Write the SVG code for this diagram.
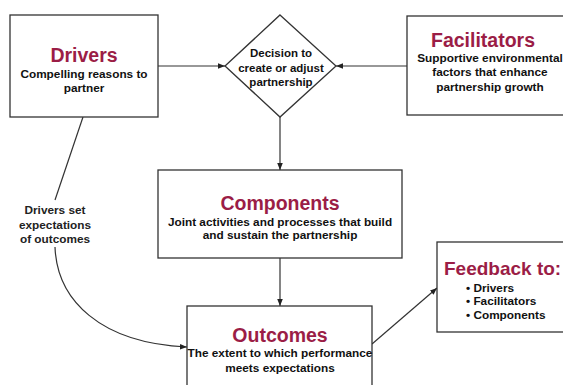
<svg xmlns="http://www.w3.org/2000/svg" width="563" height="385" viewBox="0 0 563 385">
<style>
  .box { fill: #ffffff; stroke: #333333; stroke-width: 1.3; }
  .ln { fill: none; stroke: #333333; stroke-width: 1.2; }
  .title { font-family: "Liberation Sans", Arial, sans-serif; font-weight: bold; font-size: 19.5px; fill: #9b1d46; text-anchor: middle; }
  .sub { font-family: "Liberation Sans", Arial, sans-serif; font-weight: bold; font-size: 11.8px; fill: #111111; text-anchor: middle; }
  .dia { font-family: "Liberation Sans", Arial, sans-serif; font-weight: bold; font-size: 11.5px; fill: #111111; text-anchor: middle; }
  .lbl { font-family: "Liberation Sans", Arial, sans-serif; font-weight: bold; font-size: 11.8px; fill: #222222; text-anchor: middle; }
</style>
<defs>
  <marker id="arr" viewBox="0 0 10 10" refX="10" refY="5" markerWidth="7" markerHeight="7" orient="auto" markerUnits="userSpaceOnUse">
    <path d="M0,1 L10,5 L0,9 Z" fill="#222222"/>
  </marker>
</defs>
<rect width="563" height="385" fill="#ffffff"/>

<g id="connectors">
  <line class="ln" x1="158" y1="66" x2="225" y2="66" marker-end="url(#arr)"/>
  <line class="ln" x1="407" y1="66" x2="336" y2="66" marker-end="url(#arr)"/>
  <line class="ln" x1="280" y1="117" x2="280" y2="170" marker-end="url(#arr)"/>
  <line class="ln" x1="280" y1="258" x2="280" y2="306" marker-end="url(#arr)"/>
  <line class="ln" x1="372" y1="344" x2="437" y2="288" marker-end="url(#arr)"/>
  <line class="ln" x1="83" y1="117" x2="55" y2="200"/>
  <path class="ln" d="M55,247 C57,300 100,343 187,347" marker-end="url(#arr)"/>
  <g id="label-expectations">
    <text class="lbl" x="55" y="214">Drivers set</text>
    <text class="lbl" x="55" y="229">expectations</text>
    <text class="lbl" x="55" y="243">of outcomes</text>
  </g>
</g>

<g id="drivers">
  <rect class="box" x="10" y="15" width="148" height="102"/>
  <text class="title" x="84" y="62">Drivers</text>
  <text class="sub" x="84" y="78">Compelling reasons to</text>
  <text class="sub" x="84" y="92">partner</text>
</g>

<g id="decision">
  <polygon class="box" points="280,15 336,66 280,117 225,66"/>
  <text class="dia" x="281" y="57">Decision to</text>
  <text class="dia" x="281" y="72">create or adjust</text>
  <text class="dia" x="281" y="86">partnership</text>
</g>

<g id="facilitators">
  <rect class="box" x="407" y="16" width="170" height="99"/>
  <text class="title" x="483" y="47">Facilitators</text>
  <text class="sub" x="490" y="62">Supportive environmental</text>
  <text class="sub" x="490" y="76">factors that enhance</text>
  <text class="sub" x="490" y="91">partnership growth</text>
</g>

<g id="components">
  <rect class="box" x="158" y="170" width="244" height="88"/>
  <text class="title" x="280" y="210">Components</text>
  <text class="sub" x="280" y="226">Joint activities and processes that build</text>
  <text class="sub" x="280" y="239">and sustain the partnership</text>
</g>

<g id="outcomes">
  <rect class="box" x="187" y="306" width="185" height="90"/>
  <text class="title" x="280" y="342">Outcomes</text>
  <text class="sub" x="280" y="357">The extent to which performance</text>
  <text class="sub" x="280" y="372">meets expectations</text>
</g>

<g id="feedback">
  <rect class="box" x="437" y="242" width="140" height="90"/>
  <text class="title" x="444" y="275" style="text-anchor:start;font-size:19px">Feedback to:</text>
  <text class="sub" x="466" y="292" style="text-anchor:start">• Drivers</text>
  <text class="sub" x="466" y="305" style="text-anchor:start">• Facilitators</text>
  <text class="sub" x="466" y="319" style="text-anchor:start">• Components</text>
</g>
</svg>
